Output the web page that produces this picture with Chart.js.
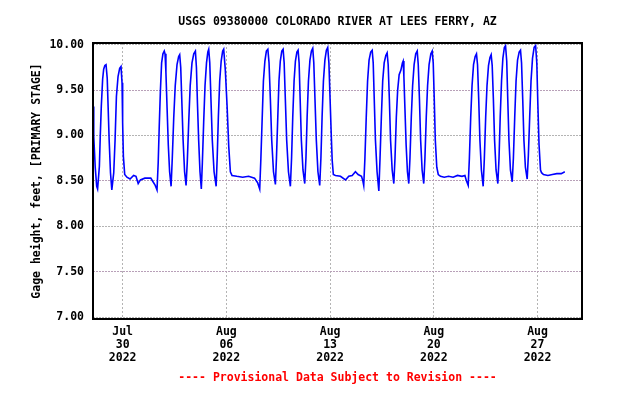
<!DOCTYPE html>
<html>
<head>
<meta charset="utf-8">
<script src="https://cdn.jsdelivr.net/npm/chart.js"></script>
<style>
  body { margin: 0; background: #fff; }
  canvas { display: block; }
</style>
</head>
<body>
<canvas id="stageChart" width="624" height="398"></canvas>
<script>
// x = days since Jul 28 2022 00:00, y = gage height (ft)
const tickDays = [2, 9, 16, 23, 30];
const tickLabels = [["Jul", "30", "2022"], ["Aug", "06", "2022"], ["Aug", "13", "2022"], ["Aug", "20", "2022"], ["Aug", "27", "2022"]];
const yTicks = [7.0, 7.5, 8.0, 8.5, 9.0, 9.5, 10.0];

const gageReadings = [
  [0, 9.32], [0.05, 8.99], [0.15, 8.65], [0.25, 8.44], [0.31, 8.41],
  [0.43, 8.66], [0.49, 8.99], [0.56, 9.32], [0.65, 9.62], [0.72, 9.73], [0.8, 9.77], [0.88, 9.78],
  [0.96, 9.63], [1.02, 9.32], [1.09, 8.95], [1.18, 8.59], [1.27, 8.40],
  [1.4, 8.59], [1.49, 8.95], [1.58, 9.43], [1.69, 9.65], [1.8, 9.74], [1.89, 9.76],
  [1.96, 9.58], [2.0, 9.14], [2.05, 8.77], [2.14, 8.57], [2.29, 8.54], [2.5, 8.52], [2.74, 8.56],
  [2.9, 8.55], [3.05, 8.47], [3.2, 8.51], [3.5, 8.53], [3.9, 8.53], [4.05, 8.49], [4.2, 8.45], [4.32, 8.40],
  [4.4, 8.7], [4.47, 9.1], [4.55, 9.5], [4.63, 9.8], [4.72, 9.90], [4.81, 9.93], [4.86, 9.90],
  [4.92, 9.7], [5.0, 9.3], [5.08, 8.9], [5.17, 8.6], [5.27, 8.44],
  [5.35, 8.75], [5.45, 9.2], [5.55, 9.55], [5.67, 9.78], [5.78, 9.87], [5.85, 9.89],
  [5.92, 9.75], [6.0, 9.35], [6.08, 8.95], [6.18, 8.6], [6.28, 8.45],
  [6.36, 8.7], [6.46, 9.15], [6.56, 9.55], [6.68, 9.8], [6.8, 9.9], [6.91, 9.93],
  [6.98, 9.75], [7.05, 9.35], [7.13, 8.95], [7.22, 8.6], [7.31, 8.41],
  [7.38, 8.7], [7.47, 9.15], [7.56, 9.55], [7.66, 9.8], [7.75, 9.92], [7.81, 9.95],
  [7.88, 9.8], [7.96, 9.4], [8.05, 8.95], [8.17, 8.6], [8.31, 8.44],
  [8.38, 8.75], [8.46, 9.2], [8.55, 9.6], [8.65, 9.82], [8.75, 9.93], [8.82, 9.95],
  [8.93, 9.72], [9.05, 9.32], [9.16, 8.88], [9.27, 8.6], [9.38, 8.56], [9.7, 8.55], [10.1, 8.54],
  [10.5, 8.55], [10.9, 8.53], [11.11, 8.48], [11.25, 8.41],
  [11.33, 8.75], [11.42, 9.2], [11.5, 9.6], [11.6, 9.82], [11.7, 9.93], [11.8, 9.95],
  [11.88, 9.8], [11.97, 9.4], [12.06, 8.95], [12.18, 8.6], [12.31, 8.46],
  [12.38, 8.75], [12.47, 9.2], [12.55, 9.6], [12.64, 9.82], [12.74, 9.93], [12.83, 9.95],
  [12.9, 9.8], [12.98, 9.4], [13.07, 8.95], [13.19, 8.6], [13.32, 8.44],
  [13.4, 8.75], [13.48, 9.2], [13.57, 9.6], [13.66, 9.82], [13.76, 9.92], [13.84, 9.94],
  [13.91, 9.8], [13.98, 9.4], [14.06, 8.95], [14.17, 8.62], [14.29, 8.47],
  [14.37, 8.75], [14.45, 9.2], [14.54, 9.6], [14.64, 9.83], [14.74, 9.93], [14.83, 9.96],
  [14.9, 9.8], [14.98, 9.4], [15.07, 8.95], [15.18, 8.6], [15.3, 8.45],
  [15.38, 8.75], [15.46, 9.2], [15.55, 9.6], [15.65, 9.83], [15.75, 9.94], [15.84, 9.97],
  [15.92, 9.8], [16.0, 9.4], [16.08, 9.0], [16.14, 8.73], [16.22, 8.57], [16.36, 8.56],
  [16.7, 8.55], [17.04, 8.51], [17.26, 8.55], [17.49, 8.56], [17.71, 8.60], [17.89, 8.57],
  [18.12, 8.55], [18.21, 8.50], [18.27, 8.45],
  [18.35, 8.75], [18.44, 9.2], [18.53, 9.6], [18.63, 9.83], [18.74, 9.92], [18.84, 9.94],
  [18.91, 9.8], [18.98, 9.4], [19.06, 8.95], [19.17, 8.6], [19.29, 8.39],
  [19.37, 8.75], [19.46, 9.2], [19.55, 9.6], [19.65, 9.8], [19.76, 9.88], [19.85, 9.91],
  [19.92, 9.78], [20.0, 9.4], [20.08, 8.95], [20.19, 8.62], [20.3, 8.47],
  [20.38, 8.75], [20.47, 9.2], [20.56, 9.5], [20.66, 9.67], [20.78, 9.72], [20.88, 9.80], [20.93, 9.82],
  [20.98, 9.65], [21.05, 9.3], [21.13, 8.9], [21.22, 8.6], [21.31, 8.47],
  [21.39, 8.75], [21.48, 9.2], [21.57, 9.55], [21.67, 9.78], [21.78, 9.9], [21.88, 9.93],
  [21.95, 9.78], [22.03, 9.4], [22.11, 8.95], [22.21, 8.62], [22.32, 8.47],
  [22.4, 8.75], [22.49, 9.2], [22.58, 9.55], [22.68, 9.78], [22.8, 9.9], [22.89, 9.93],
  [22.96, 9.8], [23.03, 9.4], [23.1, 8.95], [23.2, 8.65], [23.3, 8.57], [23.45, 8.55],
  [23.7, 8.54], [24.0, 8.55], [24.3, 8.54], [24.6, 8.56], [24.9, 8.55], [25.1, 8.56], [25.2, 8.5], [25.32, 8.45],
  [25.4, 8.75], [25.49, 9.2], [25.58, 9.55], [25.68, 9.78], [25.79, 9.87], [25.88, 9.90],
  [25.95, 9.78], [26.03, 9.4], [26.11, 8.95], [26.21, 8.62], [26.33, 8.44],
  [26.41, 8.75], [26.5, 9.2], [26.59, 9.55], [26.69, 9.77], [26.79, 9.86], [26.87, 9.89],
  [26.94, 9.77], [27.02, 9.4], [27.1, 8.95], [27.2, 8.62], [27.32, 8.47],
  [27.4, 8.75], [27.48, 9.2], [27.57, 9.6], [27.66, 9.85], [27.76, 9.97], [27.84, 9.99],
  [27.92, 9.82], [27.99, 9.4], [28.07, 8.95], [28.17, 8.62], [28.29, 8.49],
  [28.37, 8.75], [28.46, 9.2], [28.55, 9.6], [28.65, 9.83], [28.76, 9.92], [28.85, 9.94],
  [28.92, 9.8], [29.0, 9.4], [29.08, 8.95], [29.18, 8.65], [29.3, 8.52],
  [29.38, 8.78], [29.47, 9.2], [29.56, 9.6], [29.66, 9.85], [29.77, 9.97], [29.87, 9.99],
  [29.95, 9.8], [30.02, 9.35], [30.1, 8.9], [30.2, 8.62], [30.27, 8.59], [30.4, 8.57],
  [30.7, 8.56], [31.0, 8.57], [31.3, 8.58], [31.6, 8.58], [31.84, 8.60]
];

const MONO = "'DejaVu Sans Mono', 'Liberation Mono', monospace";

// title + provisional note, centred over the plot area like the USGS graphs
const plotText = {
  id: "plotText",
  afterDraw(chart) {
    const { ctx, chartArea } = chart;
    const cx = (chartArea.left + chartArea.right) / 2;
    ctx.save();
    ctx.textAlign = "center";
    ctx.textBaseline = "middle";
    ctx.font = "bold 11.5px " + MONO;
    ctx.fillStyle = "#000";
    ctx.fillText("USGS 09380000 COLORADO RIVER AT LEES FERRY, AZ", cx, 22);
    ctx.fillStyle = "#ff0000";
    ctx.fillText("---- Provisional Data Subject to Revision ----", cx, 378);
    // box round the plot
    ctx.strokeStyle = "#000";
    ctx.lineWidth = 2;
    ctx.strokeRect(chartArea.left, chartArea.top, chartArea.right - chartArea.left, chartArea.bottom - chartArea.top);
    ctx.restore();
  }
};

new Chart(document.getElementById("stageChart").getContext("2d"), {
  type: "line",
  data: {
    datasets: [{
      data: gageReadings.map(([d, v]) => ({ x: d, y: v })),
      borderColor: "#0000ff",
      borderWidth: 1.6,
      pointRadius: 0,
      tension: 0,
      fill: false,
    }],
  },
  options: {
    responsive: false,
    animation: false,
    layout: { padding: { top: 43, right: 42, left: 0, bottom: 0 } },
    plugins: {
      legend: { display: false },
      tooltip: { enabled: false },
    },
    scales: {
      x: {
        type: "linear",
        min: 0,
        max: 33,
        afterFit(scale) { scale.height = 79; },
        afterBuildTicks(scale) { scale.ticks = tickDays.map((v) => ({ value: v })); },
        grid: { color: "#b4b4b4", drawTicks: false },
        border: { display: false, dash: [2, 2] },
        ticks: {
          padding: 7,
          maxRotation: 0,
          autoSkip: false,
          color: "#000",
          font: { family: MONO, size: 11.5, weight: "bold", lineHeight: 1.13 },
          callback: (v) => tickLabels[tickDays.indexOf(v)] || "",
        },
      },
      y: {
        min: 6.978,
        max: 10.019,
        afterFit(scale) { scale.width = 93; },
        afterBuildTicks(scale) { scale.ticks = yTicks.map((v) => ({ value: v })); },
        grid: {
          color: (c) => (c.tick && c.tick.value % 1 ? "#b8a0b8" : "#b4b4b4"),
          drawTicks: false,
        },
        border: { display: false, dash: [2, 1] },
        ticks: {
          padding: 9,
          color: "#000",
          font: { family: MONO, size: 11.5, weight: "bold" },
          callback: (v) => v.toFixed(2),
        },
        title: {
          display: true,
          text: "Gage height, feet, [PRIMARY STAGE]",
          color: "#000",
          font: { family: MONO, size: 11.5, weight: "bold" },
          padding: { top: 30, bottom: 0 },
        },
      },
    },
  },
  plugins: [plotText],
});
</script>
</body>
</html>
